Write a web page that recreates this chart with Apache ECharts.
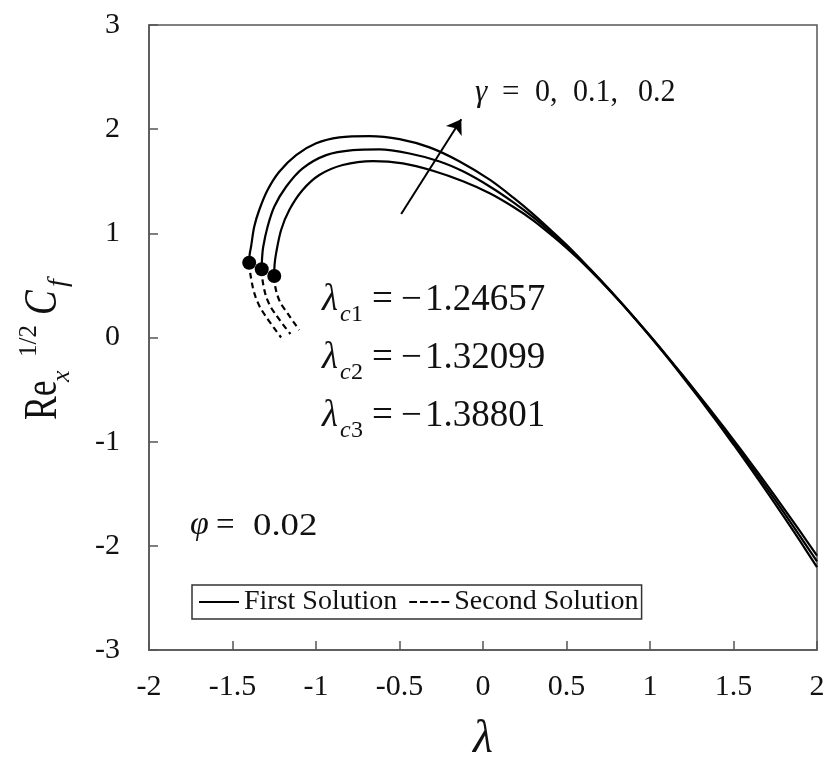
<!DOCTYPE html>
<html><head><meta charset="utf-8">
<script src="https://cdn.jsdelivr.net/npm/echarts@6/dist/echarts.min.js"></script>
<style>html,body{margin:0;padding:0;background:#fff}#c{width:826px;height:762px}</style>
</head><body><div id="c"></div>
<script>
// ---- tick values ----
const xTicks = [-2, -1.5, -1, -0.5, 0, 0.5, 1, 1.5, 2];
const yTicks = [-3, -2, -1, 0, 1, 2, 3];

// ---- First solution (upper branch) ----
// gamma = 0
const lam1_g0 = [-1.250, -1.248, -1.239, -1.209, -1.160, -1.080, -0.980, -0.840, -0.660, -0.480, -0.300, -0.120, 0.040, 0.180, 0.300, 0.420, 0.500, 0.600, 0.700, 0.800, 0.900, 1.000, 1.100, 1.200, 1.300, 1.400, 1.500, 1.600, 1.700, 1.800, 1.900, 2.000];
const cf1_g0  = [0.590, 0.700, 0.808, 1.032, 1.224, 1.416, 1.560, 1.656, 1.694, 1.672, 1.601, 1.500, 1.385, 1.255, 1.125, 0.970, 0.859, 0.711, 0.549, 0.378, 0.200, 0.016, -0.175, -0.370, -0.570, -0.774, -0.983, -1.196, -1.414, -1.637, -1.864, -2.095];
// gamma = 0.1
const lam1_g1 = [-1.325, -1.323, -1.316, -1.290, -1.250, -1.179, -1.080, -0.939, -0.780, -0.620, -0.440, -0.260, -0.120, 0.040, 0.180, 0.300, 0.420, 0.500, 0.600, 0.700, 0.800, 0.900, 1.000, 1.100, 1.200, 1.300, 1.400, 1.500, 1.600, 1.700, 1.800, 1.900, 2.000];
const cf1_g1  = [0.655, 0.760, 0.871, 1.063, 1.255, 1.447, 1.624, 1.751, 1.799, 1.806, 1.766, 1.690, 1.595, 1.450, 1.300, 1.155, 0.990, 0.874, 0.719, 0.554, 0.381, 0.201, 0.014, -0.179, -0.378, -0.582, -0.791, -1.005, -1.224, -1.448, -1.677, -1.911, -2.150];
// gamma = 0.2
const lam1_g2 = [-1.400, -1.397, -1.389, -1.370, -1.340, -1.290, -1.220, -1.119, -0.999, -0.860, -0.680, -0.500, -0.320, -0.140, 0.040, 0.180, 0.300, 0.420, 0.500, 0.600, 0.700, 0.800, 0.900, 1.000, 1.100, 1.200, 1.300, 1.400, 1.500, 1.600, 1.700, 1.800, 1.900, 2.000];
const cf1_g2  = [0.718, 0.800, 0.871, 1.063, 1.224, 1.416, 1.591, 1.751, 1.864, 1.921, 1.934, 1.905, 1.825, 1.690, 1.515, 1.345, 1.185, 1.010, 0.889, 0.727, 0.559, 0.384, 0.202, 0.012, -0.183, -0.386, -0.594, -0.808, -1.027, -1.252, -1.482, -1.717, -1.958, -2.205];

// ---- Second solution (lower branch) ----
const lam2_g0 = [-1.250, -1.244, -1.232, -1.212, -1.170, -1.135, -1.100];
const cf2_g0  = [0.590, 0.490, 0.410, 0.330, 0.232, 0.150, 0.072];
const lam2_g1 = [-1.325, -1.320, -1.310, -1.296, -1.270, -1.239, -1.200, -1.153];
const cf2_g1  = [0.655, 0.550, 0.460, 0.380, 0.290, 0.216, 0.130, 0.034];
const lam2_g2 = [-1.400, -1.392, -1.378, -1.362, -1.335, -1.299, -1.255, -1.209];
const cf2_g2  = [0.718, 0.600, 0.480, 0.390, 0.290, 0.200, 0.100, 0.000];

// ---- labels ----
const gammaValues = ['0,', '0.1,', '0.2'];
const lambdaCritical = ['−1.24657', '−1.32099', '−1.38801'];
const phiValue = '0.02';
const legendNames = ['First Solution', 'Second Solution'];
// arrow (data coordinates): start, end
const arrowLam = [-0.49, -0.13];
const arrowCf = [1.186, 2.095];

const FONT = "'Liberation Serif','Times New Roman',serif";
const INK = '#111';
const AXIS = '#555';

function pairs(xs, ys) { return xs.map((x, i) => [x, ys[i]]); }

const firstSets = [[lam1_g0, cf1_g0], [lam1_g1, cf1_g1], [lam1_g2, cf1_g2]];
const secondSets = [[lam2_g0, cf2_g0], [lam2_g1, cf2_g1], [lam2_g2, cf2_g2]];

const series = [];
firstSets.forEach(([xs, ys]) => series.push({
  type: 'line', name: legendNames[0], data: pairs(xs, ys), symbol: 'none', smooth: 0.3,
  lineStyle: { color: '#000', width: 2.2 }, itemStyle: { color: '#000', borderWidth: 0 },
  silent: true, z: 3
}));
secondSets.forEach(([xs, ys]) => series.push({
  type: 'line', name: legendNames[1], data: pairs(xs, ys), symbol: 'none', smooth: 0.3,
  lineStyle: { color: '#000', width: 2.2, type: [6, 4] }, itemStyle: { color: '#000', borderWidth: 0 },
  silent: true, z: 3
}));
// critical points (turning points where the two branches meet)
series.push({
  type: 'scatter', name: 'critical', data: firstSets.map(([xs, ys]) => [xs[0], ys[0]]),
  symbol: 'circle', symbolSize: 14, itemStyle: { color: '#000', opacity: 1 }, silent: true, z: 4
});
// arrow
series.push({
  type: 'lines', coordinateSystem: 'cartesian2d', name: 'arrow',
  data: [{ coords: [[arrowLam[0], arrowCf[0]], [arrowLam[1], arrowCf[1]]] }],
  symbol: ['none', 'arrow'], symbolSize: 14,
  lineStyle: { color: '#000', width: 2, opacity: 1 }, silent: true, z: 5
});

const chart = echarts.init(document.getElementById('c'), null, { renderer: 'canvas' });

function T(text, x, base, fs, opt) {
  opt = opt || {};
  return {
    type: 'text', x: x, y: base, scaleX: opt.sx || 1, scaleY: opt.sy || 1, silent: true, z: 10,
    style: {
      text: text, x: 0, y: -0.3375 * fs,
      font: (opt.italic ? 'italic ' : '') + fs + 'px ' + FONT,
      fill: INK, align: 'left', verticalAlign: 'middle'
    }
  };
}

const graphics = [];
// y-axis title Re_x^{1/2} C_f (rotated)
graphics.push({
  type: 'group', x: 60, y: 420, rotation: Math.PI / 2, silent: true,
  children: [
    T('Re', 0, 0, 41, { sx: 0.87, sy: 1.15 }),
    T('x', 38, 11, 26, { italic: true }),
    T('1/2', 63, -22, 25),
    T('C', 105, 0, 41, { italic: true, sx: 0.9, sy: 1.15 }),
    T('f', 133, 8, 28, { italic: true })
  ]
});
// gamma label
graphics.push(T('γ', 475, 103, 31, { italic: true }));
graphics.push(T('=', 502, 103, 31));
const gx = [535, 573, 638];
gammaValues.forEach((g, i) => graphics.push(T(g, gx[i], 103, 30, { sy: 1.05 })));
// lambda_c labels
const rowsBase = [313, 371, 429];
lambdaCritical.forEach((v, i) => {
  const b = rowsBase[i];
  graphics.push(T('λ', 322, b, 37, { italic: true }));
  graphics.push(T('c', 340, b + 10, 24, { italic: true }));
  graphics.push(T(String(i + 1), 351, b + 10, 24));
  graphics.push(T('=', 372, b, 37));
  graphics.push(T(v.charAt(0), 401, b, 37));
  graphics.push(T(v.slice(1), 425, b, 37));
});
// phi label
graphics.push(T('φ', 190, 537, 34, { italic: true }));
graphics.push(T('=', 216, 537, 33));
graphics.push(T(phiValue, 253, 537, 32, { sx: 1.15 }));

chart.setOption({
  animation: false,
  backgroundColor: '#fff',
  grid: { left: 149, right: 9, top: 25, bottom: 112, containLabel: false, outerBoundsMode: 'none',
          show: true, borderColor: AXIS, borderWidth: 1.5, backgroundColor: 'transparent' },
  legend: {
    data: [
      { name: legendNames[0], icon: 'path://M0,0H40V2H0Z' },
      { name: legendNames[1], icon: 'path://M0,0H8V2H0Z M11,0H19V2H11Z M22,0H30V2H22Z M33,0H41V2H33Z' }
    ],
    left: 192, top: 585, itemWidth: 40, itemHeight: 2, itemGap: 12, symbolKeepAspect: false,
    selectedMode: false, borderColor: '#333', borderWidth: 1.5, padding: [3, 3, 3, 7],
    itemStyle: { color: '#000', borderWidth: 0 },
    textStyle: { fontFamily: FONT, fontSize: 28, color: INK }
  },
  xAxis: {
    type: 'value', min: xTicks[0], max: xTicks[xTicks.length - 1], interval: xTicks[1] - xTicks[0],
    name: 'λ', nameLocation: 'middle', nameGap: 67,
    nameTextStyle: { fontFamily: FONT, fontStyle: 'italic', fontSize: 46, color: INK },
    axisLine: { show: true, onZero: false, lineStyle: { color: AXIS, width: 1.5 } },
    axisTick: { show: true, inside: true, length: 9, lineStyle: { color: AXIS, width: 1.5 } },
    axisLabel: { fontFamily: FONT, fontSize: 30, color: INK, margin: 22, showMinLabel: true, showMaxLabel: true, formatter: v => String(v) },
    splitLine: { show: false }
  },
  yAxis: {
    type: 'value', min: yTicks[0], max: yTicks[yTicks.length - 1], interval: yTicks[1] - yTicks[0],
    axisLine: { show: true, onZero: false, lineStyle: { color: AXIS, width: 1.5 } },
    axisTick: { show: true, inside: true, length: 9, lineStyle: { color: AXIS, width: 1.5 } },
    axisLabel: { fontFamily: FONT, fontSize: 30, color: INK, margin: 29, showMinLabel: true, showMaxLabel: true, formatter: v => String(v) },
    splitLine: { show: false }
  },
  series: series,
  graphic: graphics
});
</script>
</body></html>
